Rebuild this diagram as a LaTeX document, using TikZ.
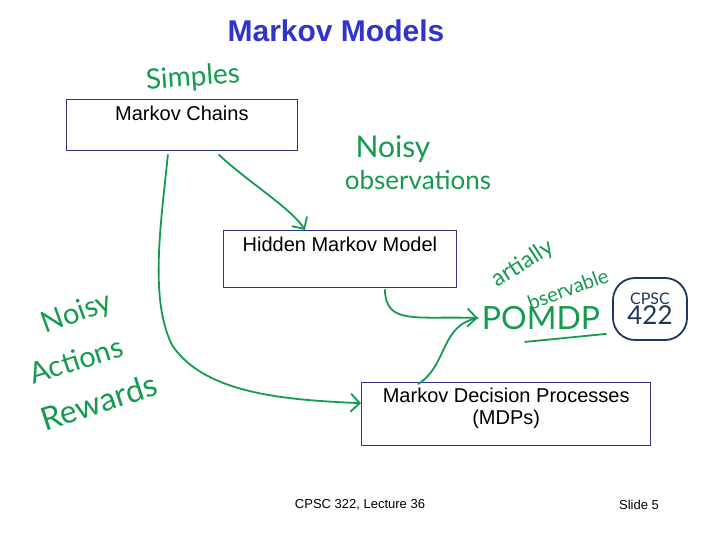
\documentclass[tikz,border=0pt]{standalone}
\usepackage{fontspec}
\setmainfont{Liberation Sans}
\newfontfamily\handfont{Lato}
\usetikzlibrary{positioning,calc,arrows.meta}
\definecolor{titleblue}{RGB}{51,51,204}
\definecolor{boxline}{RGB}{50,50,130}
\definecolor{ink}{RGB}{20,155,80}
\definecolor{navyink}{RGB}{30,55,95}
\tikzset{mbox/.style={draw=boxline,line width=0.8pt,inner sep=0pt,anchor=north west}}
\tikzset{boxtext/.style={anchor=north,inner sep=0pt,yshift=-7pt,align=center,font=\fontsize{20}{22}\selectfont}}
\tikzset{hand/.style={draw=ink,line width=1.8pt,line cap=round,line join=round}}
\tikzset{note/.style={text=ink,inner sep=0pt,font=\handfont\fontsize{28}{28}\selectfont}}
\tikzset{>={Straight Barb[length=9pt,width=18pt]}}

\begin{document}
\begin{tikzpicture}[x=1pt,y=-1pt]
	\useasboundingbox[fill=white] (0,0) rectangle (720,540);
	\node[text=titleblue,font=\bfseries\fontsize{30}{30}\selectfont] (title) at (336,31) {Markov Models};

	\node[mbox,minimum width=231pt,minimum height=51pt,label={[boxtext]north:Markov Chains}] (mc) at (66,99) {};
	\node[mbox,minimum width=233pt,minimum height=57pt,label={[boxtext]north:Hidden Markov Model}] (hmm) at (223,230) {};
	\node[mbox,line width=1.4pt,minimum width=289pt,minimum height=63pt,label={[boxtext,yshift=1pt]north:Markov Decision Processes\\(MDPs)}] (mdp) at (361,382) {};

	% handwritten notes
	\node[note,rotate=4] (simple) at (193,78) {Simples};
	\node[note,font=\handfont\fontsize{30}{30}\selectfont] (noisy) at (393,149) {Noisy};
	\node[note,font=\handfont\fontsize{26}{26}\selectfont] (obs) at (418,180) {observations};
	\node[note,rotate=20,font=\handfont\fontsize{29}{29}\selectfont] (noisyl) at (77,314) {Noisy};
	\node[note,rotate=18,font=\handfont\fontsize{29}{29}\selectfont] (act) at (76,360) {Actions};
	\node[note,rotate=18,font=\handfont\fontsize{32}{32}\selectfont] (rew) at (99,402) {Rewards};
	\node[note,font=\handfont\fontsize{32}{32}\selectfont] (pomdp) at (541,318) {POMDP};
	\node[note,rotate=33,font=\handfont\fontsize{23}{23}\selectfont] (part) at (523,264) {artially};
	\node[note,rotate=20,font=\handfont\fontsize{20}{20}\selectfont] (bserv) at (568,289) {bservable};
	\node[draw=navyink,line width=1.8pt,rounded corners=22pt,minimum width=74pt,minimum height=62pt,
		align=center,text=navyink,font=\handfont\fontsize{16}{20}\selectfont] (cpsc) at (650,309) {CPSC\\{\fontsize{26}{26}\selectfont 422}};

	\draw[hand,->] ([xshift=37pt,yshift=-4pt]mc.south) .. controls +(30,28) and +(-14,-22) .. ([xshift=-35pt]hmm.north);
	\draw[hand,->] ([xshift=-14pt,yshift=-4pt]mc.south) .. controls (160,230) and (150,300) .. (172,345)
		.. controls (205,395) and (290,400) .. ([yshift=11pt]mdp.west);
	\draw[hand,->] ([xshift=45pt,yshift=-2pt]hmm.south) .. controls (386,325) and (415,316) .. ([xshift=-4pt]pomdp.west);
	\draw[hand] ([xshift=-88pt,yshift=-2pt]mdp.north) .. controls (448,365) and (440,325) .. ([xshift=-4pt]pomdp.west);
	\draw[hand] ([xshift=-16pt,yshift=-12pt]pomdp.south) -- ([xshift=65pt,yshift=-4pt]pomdp.south);

	\node[font=\fontsize{13}{13}\selectfont] (foot) at (360,505) {CPSC 322, Lecture 36};
	\node[font=\fontsize{13}{13}\selectfont] (slide) at (639,505) {Slide 5};
\end{tikzpicture}
\end{document}
